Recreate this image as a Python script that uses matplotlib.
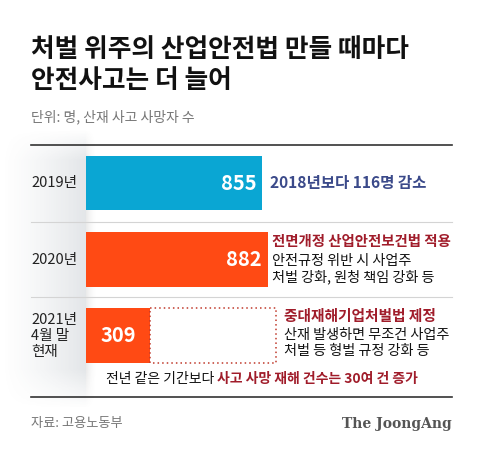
import numpy as np
import matplotlib
matplotlib.use("Agg")
import matplotlib.pyplot as plt
from matplotlib.patches import Rectangle

plt.rcParams['font.family'] = ['Noto Sans CJK KR', 'DejaVu Sans']

#data
years = ["2019년", "2020년", "2021년\n4월 말\n현재"]
deaths = [855, 882, 309]
dashed_end = 925   # dotted outline on the 2021 row
bar_colors = ["#0aa6d3", "#ff4a14", "#ff4a14"]

title = "처벌 위주의 산업안전법 만들 때마다\n안전사고는 더 늘어"
unit = "단위: 명, 산재 사고 사망자 수"
note_2019 = "2018년보다 116명 감소"
head_2020 = "전면개정 산업안전보건법 적용"
body_2020 = "안전규정 위반 시 사업주\n처벌 강화, 원청 책임 강화 등"
head_2021 = "중대재해기업처벌법 제정"
body_2021 = "산재 발생하면 무조건 사업주\n처벌 등 형벌 규정 강화 등"
foot_black = "전년 같은 기간보다 "
foot_red = "사고 사망 재해 건수는 30여 건 증가"
source = "자료: 고용노동부"

W, H = 480, 453
fig = plt.figure(figsize=(W / 100, H / 100), dpi=100)
fig.patch.set_facecolor("white")

#background axes in pixel coords
bg = fig.add_axes([0, 0, 1, 1])
bg.set_xlim(0, W)
bg.set_ylim(H, 0)
bg.axis("off")

#grey left panel with soft fade
gx = np.linspace(0, 1, 100) ** 1.3
gy = np.ones(100)
gy[:12] = np.linspace(0, 1, 12)
gy[-15:] = np.linspace(1, 0, 15)
alpha = np.outer(gy, gx) * 0.17
panel = np.zeros((100, 100, 4))
panel[..., :3] = [0.36, 0.42, 0.48]
panel[..., 3] = alpha
bg.imshow(panel, extent=(0, 86, 410, 128), aspect="auto", zorder=0)
#shadow right of the panel
sh = np.zeros((100, 30, 4))
sh[..., :3] = [0.3, 0.3, 0.3]
sh[..., 3] = np.outer(gy, np.linspace(1, 0, 30) ** 2) * 0.12
bg.imshow(sh, extent=(86, 98, 410, 128), aspect="auto", zorder=0)

#rules
bg.plot([31, 452], [145, 145], color="#333333", lw=1.2, zorder=1)
bg.plot([31, 452], [397, 397], color="#333333", lw=1.2, zorder=1)
for yy in [222, 297]:
    bg.plot([31, 452], [yy, yy], color="#d4d4d4", lw=0.8, zorder=1)

#bar axes
px_per_unit = 176 / 855
ax = fig.add_axes([86 / W, 1 - 397 / H, 366 / W, 252 / H])
ax.set_xlim(0, 366 / px_per_unit)
ax.set_ylim(2 + (397 - 335.5) / 76.25, -(183 - 145) / 76.25)
ax.patch.set_alpha(0)
ax.axis("off")
ypos = np.arange(len(years))
ax.barh(ypos, deaths, height=0.72, color=bar_colors, zorder=2)
ax.add_patch(Rectangle((deaths[2], ypos[2] - 0.36), dashed_end - deaths[2], 0.72,
                       fill=False, ec="#c0392b", lw=1.1, ls=(0, (1, 2)), zorder=2))

#value labels
for i, v in enumerate(deaths[:2]):
    ax.annotate(f"{v}", (v, ypos[i]), xytext=(-4, 0), textcoords="offset points",
                ha="right", va="center", color="white", fontsize=14.5, fontweight="bold")
ax.text(deaths[2] / 2, ypos[2], f"{deaths[2]}", ha="center", va="center",
        color="white", fontsize=14.5, fontweight="bold")

#year labels
bg.text(31, 183, years[0], ha="left", va="center", fontsize=10.5, color="#222222")
bg.text(31, 260, years[1], ha="left", va="center", fontsize=10.5, color="#222222")
bg.text(31, 336, years[2], ha="left", va="center", fontsize=10.5, color="#222222",
        linespacing=1.15)

#title
bg.text(31, 65, title, ha="left", va="center", fontsize=18.5, fontweight="heavy",
        color="#111111", linespacing=1.2)
bg.text(31, 117, unit, ha="left", va="center", fontsize=10, color="#777777")

#annotations
bg.text(270, 183, note_2019, ha="left", va="center", fontsize=11.2, fontweight="bold",
        color="#3b4a8a")
bg.text(272, 242, head_2020, ha="left", va="center", fontsize=10.4, fontweight="heavy",
        color="#a01c2a")
bg.text(272, 269, body_2020, ha="left", va="center", fontsize=10.2, color="#111111",
        linespacing=1.15)
bg.text(284, 316, head_2021, ha="left", va="center", fontsize=10.6, fontweight="heavy",
        color="#a01c2a")
bg.text(284, 343, body_2021, ha="left", va="center", fontsize=10.2, color="#111111",
        linespacing=1.15)

t1 = bg.text(106, 379, foot_black, ha="left", va="center", fontsize=10, color="#111111")
fig.canvas.draw()
bb = t1.get_window_extent()
bg.text(106 + bb.width, 379, foot_red, ha="left", va="center", fontsize=10,
        fontweight="heavy", color="#a01c2a")

#footer
bg.text(31, 424, source, ha="left", va="center", fontsize=9.5, color="#777777")
bg.text(452, 424, "The JoongAng", ha="right", va="center", fontsize=10,
        fontweight="bold", family="DejaVu Serif", color="#555555")

fig.savefig("out.png", dpi=100, facecolor="white")
